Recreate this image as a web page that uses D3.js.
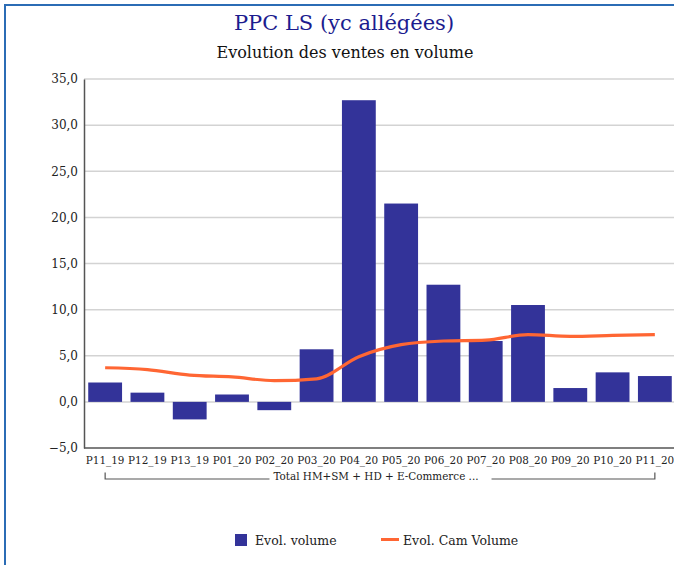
<!DOCTYPE html>
<html>
<head>
<meta charset="utf-8">
<script src="https://cdn.jsdelivr.net/npm/d3@7"></script>
<style>
html,body{margin:0;padding:0;background:#fff;overflow:hidden;}
svg{display:block;font-family:"DejaVu Serif",serif;}
</style>
</head>
<body>
<svg id="chart" width="674" height="565"></svg>
<script>
const categories = ["P11_19","P12_19","P13_19","P01_20","P02_20","P03_20","P04_20","P05_20","P06_20","P07_20","P08_20","P09_20","P10_20","P11_20"];
const volume = [2.1, 1.0, -1.9, 0.8, -0.9, 5.7, 32.7, 21.5, 12.7, 6.6, 10.5, 1.5, 3.2, 2.8];
const camVolume = [3.7, 3.5, 2.9, 2.7, 2.3, 2.5, 4.9, 6.2, 6.6, 6.7, 7.3, 7.1, 7.2, 7.3];
const yTicks = [-5, 0, 5, 10, 15, 20, 25, 30, 35];
const groupLabel = "Total HM+SM + HD + E-Commerce ...";
const seriesNames = ["Evol. volume", "Evol. Cam Volume"];
const titleText = "PPC LS (yc allégées)";
const subtitleText = "Evolution des ventes en volume";

const svg = d3.select("#chart");
const barColor = "#333399", lineColor = "#ff6633", axisColor = "#555555", gridColor = "#d3d3d3";

// frame
svg.append("rect").attr("x", 5).attr("y", 5).attr("width", 700).attr("height", 600)
  .attr("fill", "none").attr("stroke", "#2b6cb5").attr("stroke-width", 2);

// titles
svg.append("text").attr("x", 344).attr("y", 30).attr("text-anchor", "middle")
  .attr("font-size", 21).attr("fill", "#1c1c8f").text(titleText);
svg.append("text").attr("x", 345).attr("y", 58).attr("text-anchor", "middle")
  .attr("font-size", 16).attr("fill", "#111").text(subtitleText);

const x = d3.scaleBand().domain(categories).range([84, 676]).paddingInner(0.2).paddingOuter(0.1);
const y = d3.scaleLinear().domain([-5, 35]).range([448, 79]);

// grid
svg.append("g").selectAll("line").data(yTicks.filter(t => t > -5)).join("line")
  .attr("x1", 84).attr("x2", 676).attr("y1", d => y(d)).attr("y2", d => y(d))
  .attr("stroke", gridColor).attr("stroke-width", 1.5);

// y axis
const yAxis = svg.append("g").attr("transform", "translate(84,0)")
  .call(d3.axisLeft(y).tickValues(yTicks).tickSize(0).tickPadding(6)
    .tickFormat(d => d3.format(".1f")(d).replace(".", ",")));
yAxis.select(".domain").attr("stroke", axisColor).attr("stroke-width", 1.5);
yAxis.selectAll("text").attr("font-family", "DejaVu Serif").attr("font-size", 12).attr("fill", "#222");

// bars
svg.append("g").selectAll("rect").data(volume).join("rect")
  .attr("x", (d, i) => x(categories[i]))
  .attr("width", x.bandwidth())
  .attr("y", d => y(Math.max(0, d)))
  .attr("height", d => Math.abs(y(d) - y(0)))
  .attr("fill", barColor);

// x axis
const xAxis = svg.append("g").attr("transform", "translate(0,448)")
  .call(d3.axisBottom(x).tickSize(0).tickPadding(9));
xAxis.select(".domain").attr("stroke", axisColor).attr("stroke-width", 1.5)
  .attr("d", "M84,0H676");
xAxis.selectAll("text").attr("font-family", "DejaVu Serif").attr("font-size", 10.4).attr("fill", "#222");

// group label with bracket
const c0 = x(categories[0]) + x.bandwidth() / 2;
const c1 = x(categories[categories.length - 1]) + x.bandwidth() / 2;
const gl = svg.append("text").attr("x", (c0 + c1) / 2 - 4).attr("y", 479.5).attr("text-anchor", "middle")
  .attr("font-size", 10.4).attr("fill", "#222").text(groupLabel);
const bb = gl.node().getBBox();
svg.append("path")
  .attr("d", `M${c0},472.5V479H${bb.x - 4}M${bb.x + bb.width + 13},479H${c1}V472.5`)
  .attr("fill", "none").attr("stroke", axisColor).attr("stroke-width", 1.2);

// line
const line = d3.line().x((d, i) => x(categories[i]) + x.bandwidth() / 2).y(d => y(d)).curve(d3.curveMonotoneX);
svg.append("path").datum(camVolume).attr("d", line)
  .attr("fill", "none").attr("stroke", lineColor).attr("stroke-width", 3.2)
  .attr("stroke-linejoin", "round");

// legend
const lg = svg.append("g");
lg.append("rect").attr("x", 235).attr("y", 534).attr("width", 12).attr("height", 12).attr("fill", barColor);
lg.append("text").attr("x", 255).attr("y", 544.5).attr("font-size", 12.5).attr("fill", "#222").text(seriesNames[0]);
lg.append("line").attr("x1", 381).attr("x2", 399).attr("y1", 539.5).attr("y2", 539.5)
  .attr("stroke", lineColor).attr("stroke-width", 3);
lg.append("text").attr("x", 403).attr("y", 544.5).attr("font-size", 12.5).attr("fill", "#222").text(seriesNames[1]);
</script>
</body>
</html>
